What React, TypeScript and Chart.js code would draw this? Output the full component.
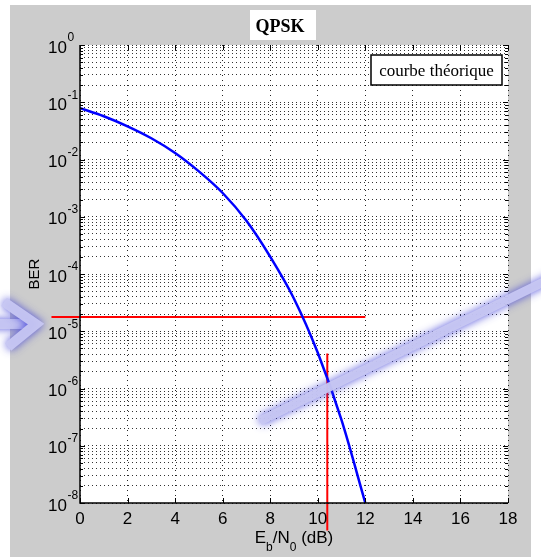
import React, { useEffect, useRef } from 'react';
import { Chart, registerables } from 'chart.js';

Chart.register(...registerables);

// ---- data ----
const ebN0Db = [0, 1, 2, 3, 4, 5, 6, 7, 8, 9, 10, 11, 12];
const berTheory = [0.079, 0.057, 0.038, 0.0235, 0.013, 0.0062, 0.0026, 0.00085, 0.0002, 0.000037, 0.0000042, 0.00000028, 0.00000001];
const targetBer = 1.78e-5;
const targetBerSpan = [-1.2, 12];
const requiredEbN0 = 10.4;
const requiredBerSpan = [4.1e-6, 3.3e-9];
const xTickValues = [0, 2, 4, 6, 8, 10, 12, 14, 16, 18];
const yDecadeExponents = [0, -1, -2, -3, -4, -5, -6, -7, -8];
const titleText = 'QPSK';
const legendText = 'courbe théorique';
const yAxisTitle = 'BER';

const NARROW = "'Liberation Sans Narrow', 'Liberation Sans', Arial, sans-serif";
const SANS = "'Liberation Sans', Arial, sans-serif";
const SERIF = "'Liberation Serif', 'Times New Roman', serif";

function glowStroke(ctx: CanvasRenderingContext2D, pts: number[][], width: number) {
  ctx.save();
  ctx.lineCap = 'butt';
  ctx.lineJoin = 'miter';
  ctx.shadowColor = 'rgba(60,60,215,0.9)';
  ctx.shadowBlur = 9;
  ctx.strokeStyle = 'rgba(200,200,242,0.94)';
  ctx.lineWidth = width;
  ctx.beginPath();
  pts.forEach(([x, y], i) => (i ? ctx.lineTo(x, y) : ctx.moveTo(x, y)));
  ctx.stroke();
  ctx.restore();
}

const matlabLook = {
  id: 'matlabLook',
  beforeDraw(chart: any) {
    const { ctx, chartArea: a, width, height } = chart;
    ctx.save();
    ctx.fillStyle = '#ffffff';
    ctx.fillRect(0, 0, width, height);
    ctx.fillStyle = '#cccccc';
    ctx.fillRect(10, 5, 521, 552);
    ctx.fillStyle = '#ffffff';
    ctx.fillRect(a.left, a.top, a.right - a.left, a.bottom - a.top);
    ctx.restore();
  },
  afterDraw(chart: any) {
    const { ctx, chartArea: a } = chart;
    const xs = chart.scales.x;
    const ys = chart.scales.y;
    ctx.save();
    // solid left & bottom axes
    ctx.strokeStyle = '#000';
    ctx.lineWidth = 1.5;
    ctx.beginPath();
    ctx.moveTo(a.left, a.top);
    ctx.lineTo(a.left, a.bottom);
    ctx.lineTo(a.right, a.bottom);
    ctx.stroke();
    // inward tick marks
    ctx.lineWidth = 1;
    ctx.beginPath();
    xTickValues.forEach((v) => {
      const px = Math.round(xs.getPixelForValue(v)) + 0.5;
      ctx.moveTo(px, a.bottom);
      ctx.lineTo(px, a.bottom - 5);
      ctx.moveTo(px, a.top);
      ctx.lineTo(px, a.top + 5);
    });
    ys.ticks.forEach((t: any) => {
      const py = Math.round(ys.getPixelForValue(t.value)) + 0.5;
      const major = Math.abs(Math.log10(t.value) - Math.round(Math.log10(t.value))) < 1e-6;
      const len = major ? 5 : 3;
      ctx.moveTo(a.left, py);
      ctx.lineTo(a.left + len, py);
      ctx.moveTo(a.right, py);
      ctx.lineTo(a.right - len, py);
    });
    ctx.stroke();

    // x tick labels
    ctx.fillStyle = '#000';
    ctx.font = `17px ${NARROW}`;
    ctx.textAlign = 'center';
    ctx.textBaseline = 'alphabetic';
    xTickValues.forEach((v) => {
      ctx.fillText(String(v), xs.getPixelForValue(v), 524);
    });

    // y tick labels 10^k
    yDecadeExponents.forEach((e) => {
      const py = ys.getPixelForValue(Math.pow(10, e));
      ctx.font = `17px ${NARROW}`;
      ctx.textAlign = 'right';
      ctx.textBaseline = 'middle';
      ctx.fillText('10', 67, py + 3);
      ctx.font = `12px ${NARROW}`;
      ctx.textAlign = 'left';
      ctx.fillText(String(e), 67.5, py - 7);
    });

    // x axis title with subscripts
    const parts: [string, boolean][] = [['E', false], ['b', true], ['/N', false], ['0', true], [' (dB)', false]];
    const mainFont = `17px ${NARROW}`;
    const subFont = `12px ${NARROW}`;
    let total = 0;
    parts.forEach(([s, sub]) => {
      ctx.font = sub ? subFont : mainFont;
      total += ctx.measureText(s).width;
    });
    let cx = (a.left + a.right) / 2 - total / 2;
    ctx.textAlign = 'left';
    ctx.textBaseline = 'alphabetic';
    parts.forEach(([s, sub]) => {
      ctx.font = sub ? subFont : mainFont;
      ctx.fillText(s, cx, sub ? 551 : 543);
      cx += ctx.measureText(s).width;
    });

    // y axis title
    ctx.save();
    ctx.translate(35, (a.top + a.bottom) / 2);
    ctx.rotate(-Math.PI / 2);
    ctx.font = `15px ${SANS}`;
    ctx.textAlign = 'center';
    ctx.textBaseline = 'middle';
    ctx.fillText(yAxisTitle, 0, 0);
    ctx.restore();

    // title box
    ctx.fillStyle = '#fff';
    ctx.fillRect(250, 10, 66, 30);
    ctx.fillStyle = '#000';
    ctx.font = `bold 18px ${SERIF}`;
    ctx.textAlign = 'center';
    ctx.textBaseline = 'alphabetic';
    ctx.fillText(titleText, 280, 32);

    // legend box
    ctx.fillStyle = '#fff';
    ctx.fillRect(371, 55, 131, 30);
    ctx.strokeStyle = '#000';
    ctx.lineWidth = 1.5;
    ctx.strokeRect(371, 55, 131, 30);
    ctx.fillStyle = '#000';
    ctx.font = `17px ${SERIF}`;
    ctx.textAlign = 'center';
    ctx.fillText(legendText, 436.5, 75.5);

    // decorative highlighter marks
    glowStroke(ctx, [[-10, 324], [30, 324]], 10);
    glowStroke(ctx, [[4, 302], [36, 324], [8, 347]], 10);
    glowStroke(ctx, [[260, 421], [560, 274]], 9);
    ctx.restore();
  },
};

export default function App() {
  const ref = useRef<HTMLCanvasElement | null>(null);
  useEffect(() => {
    if (!ref.current) return;
    const yTicks = () => {
      const t: { value: number }[] = [];
      yDecadeExponents.forEach((e) => {
        for (let m = 1; m <= 9; m++) {
          const v = m * Math.pow(10, e);
          if (v <= 1.0000001 && v >= 0.99e-8) t.push({ value: v });
        }
      });
      return t.sort((p, q) => p.value - q.value);
    };
    const chart = new Chart(ref.current, {
      type: 'line',
      data: {
        datasets: [
          {
            label: legendText,
            data: ebN0Db.map((x, i) => ({ x, y: berTheory[i] })),
            borderColor: '#0000ff',
            borderWidth: 2.5,
            pointRadius: 0,
            cubicInterpolationMode: 'monotone',
            fill: false,
          },
          {
            label: 'BER cible',
            data: targetBerSpan.map((x) => ({ x, y: targetBer })),
            borderColor: '#ff0000',
            borderWidth: 2,
            pointRadius: 0,
            clip: false,
            fill: false,
          },
          {
            label: 'Eb/N0 requis',
            data: requiredBerSpan.map((y) => ({ x: requiredEbN0, y })),
            borderColor: '#ff0000',
            borderWidth: 2,
            pointRadius: 0,
            clip: false,
            fill: false,
          },
        ],
      },
      options: {
        responsive: false,
        animation: false,
        devicePixelRatio: 1,
        layout: { padding: { top: 45, right: 33, bottom: 0, left: 0 } },
        plugins: { legend: { display: false }, tooltip: { enabled: false }, title: { display: false } },
        scales: {
          x: {
            type: 'linear',
            min: 0,
            max: 18,
            ticks: { stepSize: 2, display: false },
            grid: { color: 'rgba(0,0,0,0.85)', lineWidth: 1, drawTicks: false },
            border: { display: false, dash: [1, 4] },
            afterFit: (s: any) => {
              s.height = 57;
            },
          },
          y: {
            type: 'logarithmic',
            min: 1e-8,
            max: 1,
            ticks: { display: false },
            afterBuildTicks: (s: any) => {
              s.ticks = yTicks();
            },
            grid: { color: 'rgba(0,0,0,0.8)', lineWidth: 1, drawTicks: false },
            border: { display: false, dash: [1, 3] },
            afterFit: (s: any) => {
              s.width = 80;
            },
          },
        },
      } as any,
      plugins: [matlabLook],
    });
    return () => chart.destroy();
  }, []);
  return (
    <div style={{ position: 'absolute', left: 0, top: 0, width: 541, height: 560 }}>
      <canvas ref={ref} width={541} height={560} />
    </div>
  );
}
